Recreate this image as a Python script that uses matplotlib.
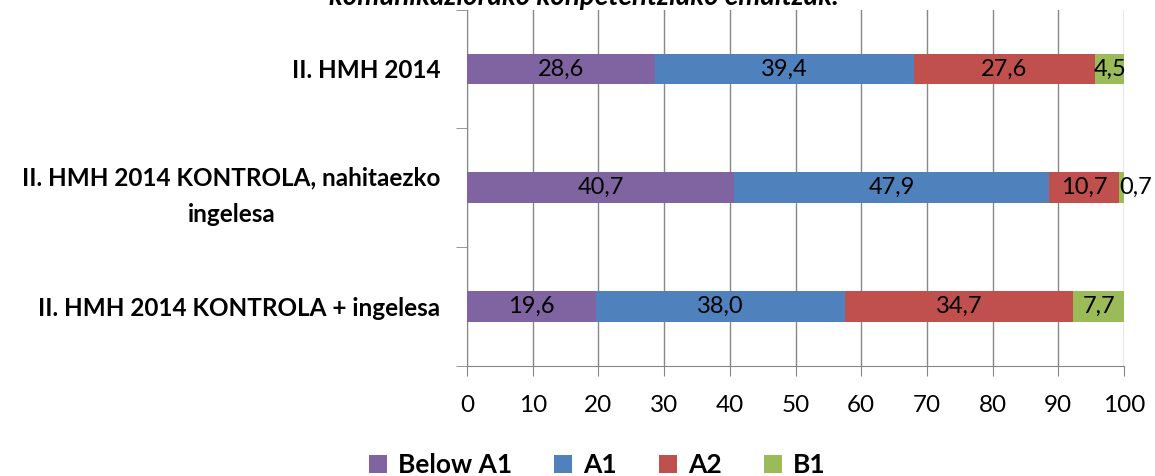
import numpy as np
import matplotlib.pyplot as plt

categories = ["II. HMH 2014",
              "II. HMH 2014 KONTROLA, nahitaezko\ningelesa",
              "II. HMH 2014 KONTROLA + ingelesa"]
levels = ["Below A1", "A1", "A2", "B1"]
below_a1 = [28.6, 40.7, 19.6]
a1 = [39.4, 47.9, 38.0]
a2 = [27.6, 10.7, 34.7]
b1 = [4.5, 0.7, 7.7]
colors = ["#8064A2", "#4F81BD", "#C0504D", "#9BBB59"]

plt.rcParams['font.family'] = ['Lato', 'DejaVu Sans']

fig = plt.figure(figsize=(11.55, 4.76), dpi=100)
ax = fig.add_axes([467/1155, 1 - 365.7/476, (1124 - 467)/1155, (365.7 - 9.6)/476])

y = np.arange(len(categories))
left = np.zeros(len(categories))
for name, vals, c in zip(levels, [below_a1, a1, a2, b1], colors):
    vals = np.array(vals)
    ax.barh(y, vals, left=left, height=0.26, color=c, label=name, zorder=3)
    for yi, l, v in zip(y, left, vals):
        txt = f"{v:.1f}".replace(".", ",")
        if v < 2:
            # too narrow, label spills to the right like in Excel
            ax.text(l, yi, txt, ha="left", va="center", fontsize=17, zorder=4)
        else:
            ax.text(l + v / 2, yi, txt, ha="center", va="center", fontsize=17, zorder=4)
    left += vals

ax.set_xlim(0, 100)
ax.set_ylim(2.5, -0.5)
ax.set_xticks(np.arange(0, 101, 10))
ax.tick_params(axis="x", labelsize=17.5, length=7, color="#868686", pad=14)
ax.set_yticks(y)
ax.set_yticklabels(categories, fontweight="bold", fontsize=17.5, linespacing=1.7)
ax.tick_params(axis="y", which="major", length=0, pad=19)
ax.set_yticks([-0.5, 0.5, 1.5, 2.5], minor=True)
ax.tick_params(axis="y", which="minor", length=8, color="#868686")
for lab in ax.get_yticklabels():
    lab.set_multialignment("center")
ax.grid(axis="x", color="#878787", linewidth=1, zorder=0)
for s in ["top", "right"]:
    ax.spines[s].set_visible(False)
for s in ["left", "bottom"]:
    ax.spines[s].set_color("#868686")

fig.text(584/1155, 1 - 5/476, "komunikaziorako konpetentziako emaitzak.", ha="center",
         va="baseline", fontsize=20, fontweight="bold", fontstyle="italic")

fig.legend(loc="center", bbox_to_anchor=(597/1155, 1 - 465/476), ncol=4, frameon=False,
           prop={"weight": "bold", "size": 19}, handlelength=0.7, handleheight=0.7,
           columnspacing=1.6, handletextpad=0.4)

fig.savefig("out.png", dpi=100)
